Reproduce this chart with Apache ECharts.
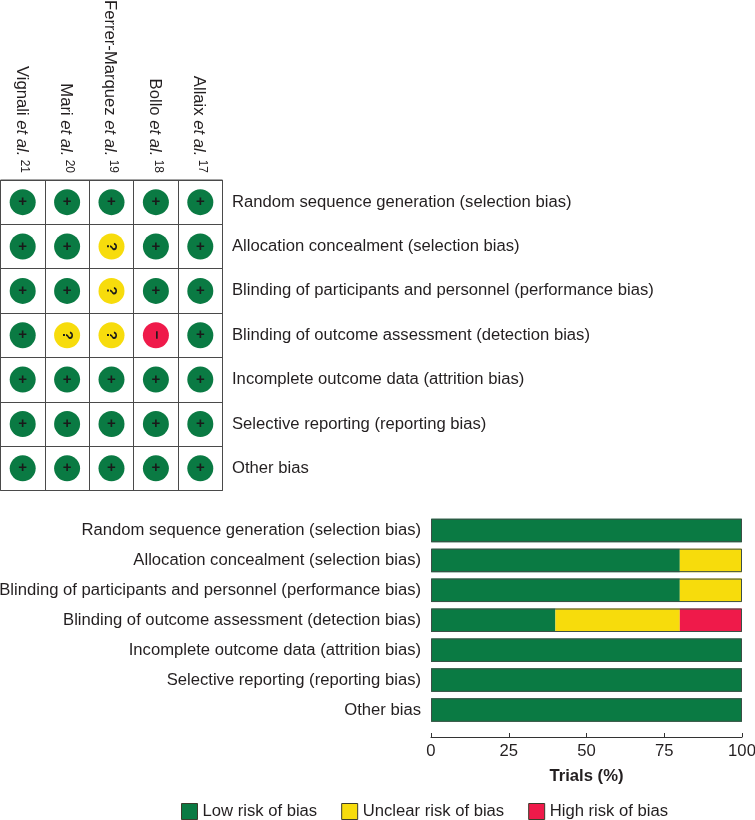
<!DOCTYPE html>
<html><head><meta charset="utf-8">
<style>html,body{margin:0;padding:0;background:#fff}#c{width:755px;height:820px}</style>
<script src="https://cdn.jsdelivr.net/npm/echarts@6/dist/echarts.min.js"></script>
</head><body><div id="c"></div>
<script>
const studies = ['Vignali','Mari','Ferrer-Marquez','Bollo','Allaix'];
const refs = ['21','20','19','18','17'];
const domains = ['Random sequence generation (selection bias)','Allocation concealment (selection bias)','Blinding of participants and personnel (performance bias)','Blinding of outcome assessment (detection bias)','Incomplete outcome data (attrition bias)','Selective reporting (reporting bias)','Other bias'];
const vignali = ['+','+','+','+','+','+','+'];
const mari    = ['+','+','+','?','+','+','+'];
const ferrer  = ['+','?','?','?','+','+','+'];
const bollo   = ['+','+','+','-','+','+','+'];
const allaix  = ['+','+','+','+','+','+','+'];
const judgements = [vignali,mari,ferrer,bollo,allaix];
const lowRisk = [100,80,80,40,100,100,100];
const unclearRisk = [0,20,20,40,0,0,0];
const highRisk = [0,0,0,20,0,0,0];
const totals = [100,100,100,100,100,100,100];
const xTicks = [0,25,50,75,100];

const GREEN='#0a7a43',YELLOW='#f7dc0c',RED='#ef1a4a',INK='#231f20',LINE='#4a4a4a';
const FS=16.65;
const colorOf={'+':GREEN,'?':YELLOW,'-':RED};
const glyphOf={'+':'+','?':'?','-':'\u2212'};
const cells=[];
judgements.forEach((col,x)=>col.forEach((v,y)=>cells.push({value:[x,y],symbolSize:26,
  itemStyle:{color:colorOf[v],opacity:1},
  label:{formatter:glyphOf[v],rotate:v==='+'?0:-90}})));

const chart=echarts.init(document.getElementById('c'),null,{renderer:'canvas'});
const barSeries=(name,data,color)=>({name,type:'bar',stack:'r',xAxisIndex:1,yAxisIndex:1,data,barWidth:23.5,
  itemStyle:{color},emphasis:{disabled:true},z:2});
chart.setOption({
  animation:false,
  textStyle:{fontFamily:'"Liberation Sans",Arial,sans-serif',color:INK},
  grid:[
    {left:0.5,top:180,width:222,height:310.5,show:true,borderColor:LINE,borderWidth:1,backgroundColor:'transparent',outerBoundsMode:'none'},
    {left:431,top:515.5,width:311,height:209.5,outerBoundsMode:'none'}
  ],
  legend:{left:181,top:803,padding:0,itemWidth:16,itemHeight:16,itemGap:24,icon:'rect',
    data:[{name:'Low risk of bias'},{name:'Unclear risk of bias'},{name:'High risk of bias'}],
    itemStyle:{borderColor:'#3c3c2c',borderWidth:1},
    textStyle:{fontSize:FS,color:INK,fontFamily:'"Liberation Sans",Arial,sans-serif'},selectedMode:false},
  xAxis:[
    {gridIndex:0,type:'category',position:'top',data:studies,
      axisLine:{show:false},axisTick:{show:false},
      splitLine:{show:true,lineStyle:{color:LINE,width:1}},
      axisLabel:{interval:0,rotate:90,margin:7,color:INK,
        formatter:(s,i)=>`{n|${s} }{i|et al.}{s| ${refs[i]}}`,
        rich:{n:{fontSize:FS,color:INK,padding:[3,0,0,0]},i:{fontSize:FS,color:INK,fontStyle:'italic',padding:[3,0,0,0]},s:{fontSize:12,color:INK,verticalAlign:'top',padding:[2,0,0,0]}}}},
    {gridIndex:1,type:'value',min:0,max:100,interval:25,position:'bottom',offset:12,
      name:'Trials (%)',nameLocation:'middle',nameGap:31,
      nameTextStyle:{fontSize:FS,fontWeight:'bold',color:INK},
      axisLine:{show:true,lineStyle:{color:'#333',width:1}},
      axisTick:{show:true,inside:true,length:4,lineStyle:{color:'#333'}},
      splitLine:{show:false},
      axisLabel:{color:INK,fontSize:FS,margin:6,showMaxLabel:true,formatter:v=>xTicks.includes(v)?String(v):''}}
  ],
  yAxis:[
    {gridIndex:0,type:'category',inverse:true,position:'right',data:domains,
      axisLine:{show:false},axisTick:{show:false},
      splitLine:{show:true,lineStyle:{color:LINE,width:1}},
      axisLabel:{interval:0,margin:9.5,color:INK,fontSize:FS}},
    {gridIndex:1,type:'category',inverse:true,position:'left',data:domains,
      axisLine:{show:false},axisTick:{show:false},splitLine:{show:false},
      axisLabel:{interval:0,margin:10,color:INK,fontSize:FS}}
  ],
  series:[
    {type:'scatter',xAxisIndex:0,yAxisIndex:0,data:cells,z:3,symbol:'circle',
      label:{show:true,position:'inside',color:'#1a1a1a',fontSize:15,fontWeight:'bold'},emphasis:{disabled:true}},
    barSeries('Low risk of bias',lowRisk,GREEN),
    barSeries('Unclear risk of bias',unclearRisk,YELLOW),
    barSeries('High risk of bias',highRisk,RED),
    {name:'outline',type:'bar',xAxisIndex:1,yAxisIndex:1,data:totals,barWidth:23.5,barGap:'-100%',z:4,
      itemStyle:{color:'transparent',borderColor:'#3c4f46',borderWidth:1},emphasis:{disabled:true}}
  ]
});
</script></body></html>
